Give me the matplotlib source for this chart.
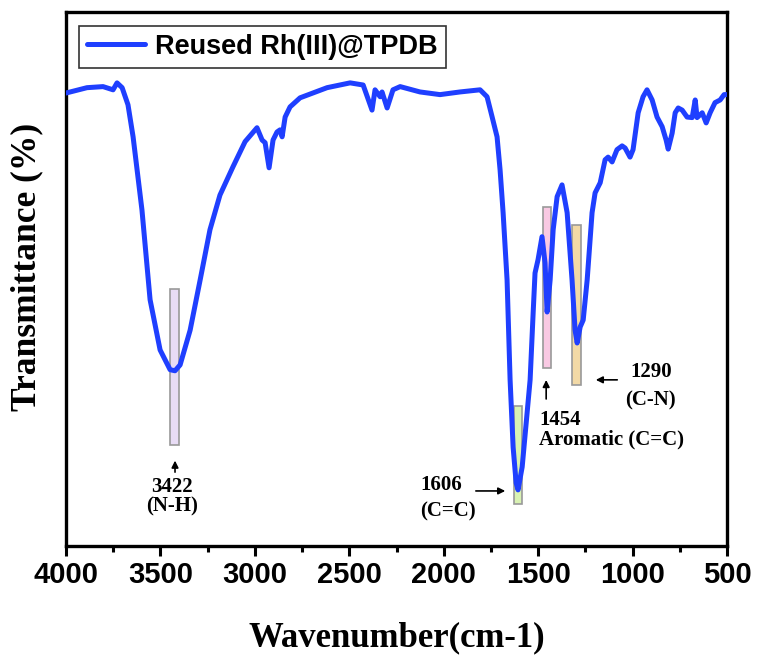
import numpy as np
import matplotlib
matplotlib.use('Agg')
import matplotlib.pyplot as plt
from matplotlib.patches import Rectangle

# FTIR spectrum (wavenumber cm-1, transmittance a.u.)
wavenumber = [4000, 3889, 3804, 3751, 3730, 3703, 3672, 3645, 3598, 3555,
              3502, 3449, 3423, 3396, 3343, 3290, 3238, 3185, 3116, 3052,
              2989, 2962, 2946, 2925, 2904, 2883, 2867, 2856, 2840, 2814,
              2761, 2618, 2496, 2427, 2380, 2364, 2337, 2327, 2300, 2269,
              2231, 2126, 2020, 1914, 1808, 1771, 1744, 1718, 1702, 1686,
              1665, 1649, 1633, 1617, 1607, 1585, 1559, 1543, 1527, 1517,
              1501, 1480, 1464, 1453, 1437, 1421, 1400, 1374, 1347, 1321,
              1305, 1294, 1278, 1262, 1241, 1215, 1199, 1172, 1146, 1130,
              1109, 1083, 1056, 1040, 1014, 998, 971, 945, 924, 897,
              871, 844, 823, 812, 791, 775, 759, 738, 712, 685,
              669, 659, 632, 611, 590, 564, 537, 516, 500]
transmittance = [84.8, 85.8, 86.0, 85.4, 86.7, 85.8, 82.6, 76.6, 62.9, 46.1,
                 36.7, 33.0, 32.8, 33.9, 40.4, 49.8, 59.2, 65.7, 71.0, 75.7,
                 78.3, 76.0, 75.5, 70.8, 76.0, 77.5, 77.9, 76.6, 80.3, 82.2,
                 83.9, 85.8, 86.7, 86.3, 81.6, 85.4, 84.1, 85.0, 82.0, 85.4,
                 86.0, 85.0, 84.5, 85.0, 85.4, 84.1, 80.3, 76.6, 70.4, 62.4,
                 49.8, 31.1, 18.5, 11.8, 10.5, 14.8, 24.9, 31.1, 43.6, 51.1,
                 53.6, 57.9, 53.0, 43.8, 49.8, 59.2, 65.4, 67.6, 62.4, 49.8,
                 40.4, 38.0, 41.0, 42.3, 49.8, 62.4, 66.1, 68.0, 72.3, 72.8,
                 71.9, 74.2, 74.9, 74.5, 72.8, 74.2, 81.1, 84.1, 85.4, 83.5,
                 80.3, 78.5, 76.0, 74.3, 77.3, 81.1, 82.0, 81.6, 80.3, 80.2,
                 83.5, 80.2, 81.1, 79.2, 81.1, 83.0, 83.5, 84.5, 84.5]

# marked bands: wavenumber span and transmittance span of each box
band_left = [3449, 1628, 1474, 1321]
band_right = [3402, 1585, 1432, 1273]
band_low = [18.9, 7.9, 33.3, 30.2]
band_high = [48.1, 26.2, 63.5, 60.1]
band_colors = ['#e8dcf5', '#d9f2b3', '#f9c9e3', '#f2d9a6']

serif = 'Liberation Serif'
sans = 'Liberation Sans'

fig = plt.figure(figsize=(7.59, 6.57), dpi=100)
ax = fig.add_axes([0.087, 0.169, 0.871, 0.813])

for l, r, lo, hi, c in zip(band_left, band_right, band_low, band_high, band_colors):
    ax.add_patch(Rectangle((r, lo), l - r, hi - lo, facecolor=c,
                           edgecolor='#999999', lw=1.2, zorder=2))

ax.plot(wavenumber, transmittance, color='#1f3fff', lw=3.6,
        solid_joinstyle='round', solid_capstyle='round', zorder=3,
        label='Reused Rh(III)@TPDB')

ax.set_xlim(4000, 500)
ax.set_ylim(0, 100)
ax.set_xticks(np.arange(4000, 499, -500))
ax.set_xticks(np.arange(3750, 500, -500), minor=True)
ax.set_yticks([])
ax.tick_params(axis='x', which='major', direction='out', length=7, width=2.2,
               labelsize=21, pad=4)
ax.tick_params(axis='x', which='minor', direction='out', length=4, width=2.2)
for lab in ax.get_xticklabels():
    lab.set_fontfamily(sans)
    lab.set_fontweight('bold')
for s in ax.spines.values():
    s.set_linewidth(2.4)

ax.set_xlabel('Wavenumber(cm-1)', fontsize=25, fontfamily=serif,
              fontweight='bold', labelpad=23)
ax.set_ylabel('Transmittance (%)', fontsize=25.5, fontfamily=serif,
              fontweight='bold')
ax.yaxis.set_label_coords(-0.035, 0.522)

# annotations
tk = dict(fontsize=15, fontfamily=serif, fontweight='bold', color='black')
arr = dict(arrowstyle='-|>', color='black', lw=1.2, mutation_scale=10)

ax.annotate('', xy=(3423, 16.5), xytext=(3423, 13.3), arrowprops=arr)
ax.text(3439, 11.0, '3422', ha='center', va='center', **tk)
ax.text(3439, 7.3, '(N-H)', ha='center', va='center', **tk)

ax.annotate('', xy=(1660, 10.3), xytext=(1845, 10.3), arrowprops=arr)
ax.text(2126, 11.4, '1606', ha='left', va='center', **tk)
ax.text(2126, 6.4, '(C=C)', ha='left', va='center', **tk)

ax.annotate('', xy=(1458, 31.6), xytext=(1458, 27.0), arrowprops=arr)
ax.text(1495, 23.6, '1454', ha='left', va='center', **tk)
ax.text(1495, 20.0, 'Aromatic (C=C)', ha='left', va='center', **tk)

ax.annotate('', xy=(1210, 31.1), xytext=(1067, 31.1), arrowprops=arr)
ax.text(902, 32.6, '1290', ha='center', va='center', **tk)
ax.text(908, 27.2, '(C-N)', ha='center', va='center', **tk)

leg = ax.legend(loc='upper left', bbox_to_anchor=(0.0197, 0.974),
                borderaxespad=0, fancybox=False, framealpha=1,
                edgecolor='#333333', handlelength=2.15, handletextpad=0.36,
                borderpad=0.3, prop=dict(family=sans, weight='bold', size=19.5))
leg.get_frame().set_linewidth(1.2)

fig.savefig('out.png', dpi=100)
